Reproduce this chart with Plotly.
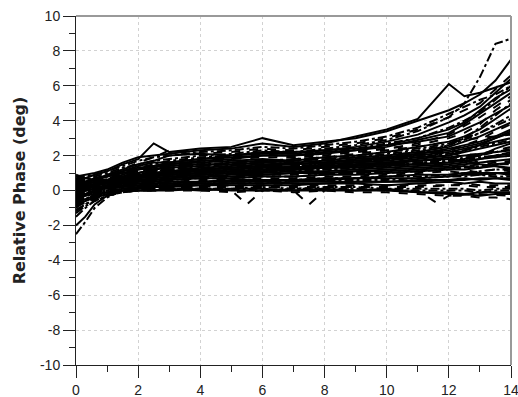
import plotly.graph_objects as go

x_vals = [0, 0.3, 0.6, 1, 1.5, 2, 2.5, 3, 4, 5, 6, 7, 8, 9, 10, 11, 12, 12.5, 13, 13.5, 14]

s01 = [0.5, 0.6, 0.8, 1.0, 1.3, 1.5, 1.7, 1.8, 2.0, 2.1, 2.3, 2.2, 2.4, 2.6, 2.9, 3.4, 4.2, 5.0, 6.5, 8.4, 8.7]
s02 = [0.8, 0.9, 1.0, 1.2, 1.6, 1.9, 2.0, 2.1, 2.3, 2.4, 2.7, 2.5, 2.7, 3.1, 3.5, 4.1, 6.1, 5.4, 5.6, 5.9, 6.2]
s03 = [0.6, 0.7, 0.9, 1.1, 1.5, 1.8, 2.7, 2.2, 2.4, 2.5, 3.0, 2.6, 2.8, 3.0, 3.4, 4.0, 4.6, 5.0, 5.5, 6.3, 7.5]
s04 = [0.3, 0.5, 0.7, 0.9, 1.2, 1.6, 1.9, 2.3, 2.1, 2.2, 2.4, 2.3, 2.5, 2.7, 3.0, 3.5, 4.2, 4.6, 5.0, 5.8, 6.6]
s05 = [0.0, 0.2, 0.4, 0.7, 1.0, 1.3, 1.5, 1.7, 1.9, 2.0, 2.2, 2.1, 2.2, 2.4, 2.7, 3.0, 3.6, 4.0, 4.5, 5.2, 6.0]
s06 = [0.4, 0.5, 0.7, 0.8, 1.1, 1.4, 1.6, 1.6, 1.8, 1.9, 2.0, 2.0, 2.2, 2.3, 2.5, 2.9, 3.3, 3.8, 4.4, 5.0, 5.6]
s07 = [-0.3, -0.1, 0.2, 0.5, 0.8, 1.1, 1.3, 1.4, 1.6, 1.8, 1.9, 1.9, 2.0, 2.2, 2.4, 2.6, 3.0, 3.3, 3.8, 4.6, 5.2]
s08 = [0.2, 0.3, 0.5, 0.6, 0.9, 1.2, 1.3, 1.5, 1.6, 1.7, 1.8, 1.7, 1.9, 2.0, 2.2, 2.5, 2.8, 3.1, 3.5, 4.1, 4.7]
s09 = [-0.6, -0.3, 0.0, 0.4, 0.7, 0.9, 1.1, 1.2, 1.4, 1.5, 1.6, 1.7, 1.8, 1.9, 2.1, 2.3, 2.6, 2.9, 3.3, 3.8, 4.3]
s10 = [0.1, 0.2, 0.4, 0.6, 0.8, 1.0, 1.2, 1.3, 1.4, 1.6, 1.7, 1.6, 1.7, 1.9, 2.0, 2.2, 2.5, 2.8, 3.1, 3.5, 3.9]
s11 = [-0.2, 0.0, 0.3, 0.5, 0.7, 0.9, 1.0, 1.1, 1.3, 1.4, 1.5, 1.5, 1.6, 1.8, 1.9, 2.1, 2.4, 2.6, 2.8, 3.1, 3.5]
s12 = [0.5, 0.6, 0.7, 0.8, 1.0, 1.1, 1.2, 1.3, 1.5, 1.5, 1.6, 1.8, 1.9, 2.1, 2.3, 2.5, 2.8, 2.9, 3.0, 3.1, 3.2]
s13 = [-1.0, -0.6, -0.2, 0.2, 0.5, 0.7, 0.9, 1.0, 1.1, 1.2, 1.3, 1.4, 1.5, 1.6, 1.8, 1.9, 2.1, 2.3, 2.5, 2.7, 2.9]
s14 = [0.0, 0.1, 0.3, 0.5, 0.6, 0.8, 0.9, 1.0, 1.2, 1.3, 1.4, 1.3, 1.5, 1.6, 1.7, 1.9, 2.0, 2.2, 2.4, 2.6, 2.8]
s15 = [-0.4, -0.2, 0.1, 0.3, 0.5, 0.7, 0.8, 0.9, 1.0, 1.1, 1.2, 1.2, 1.3, 1.4, 1.5, 1.6, 1.8, 2.0, 2.1, 2.3, 2.5]
s16 = [0.3, 0.4, 0.5, 0.6, 0.7, 0.8, 0.9, 1.0, 1.1, 1.1, 1.2, 1.2, 1.3, 1.4, 1.5, 1.7, 1.9, 2.0, 2.1, 2.2, 2.3]
s17 = [-0.8, -0.5, -0.2, 0.1, 0.4, 0.6, 0.7, 0.8, 0.9, 1.0, 1.1, 1.1, 1.2, 1.3, 1.4, 1.5, 1.7, 1.8, 1.9, 2.0, 2.2]
s18 = [0.2, 0.2, 0.3, 0.4, 0.5, 0.6, 0.7, 0.8, 0.9, 1.0, 1.0, 1.1, 1.1, 1.2, 1.3, 1.4, 1.5, 1.6, 1.8, 1.9, 2.0]
s19 = [-0.5, -0.3, -0.1, 0.2, 0.4, 0.5, 0.6, 0.7, 0.8, 0.8, 0.9, 1.0, 1.0, 1.1, 1.2, 1.3, 1.4, 1.5, 1.6, 1.7, 1.8]
s20 = [0.6, 0.6, 0.6, 0.7, 0.8, 0.9, 1.0, 1.1, 1.3, 1.4, 1.5, 1.4, 1.6, 1.7, 1.8, 1.9, 2.2, 1.9, 1.6, 1.7, 1.6]
s21 = [-1.2, -0.8, -0.4, 0.0, 0.3, 0.4, 0.5, 0.6, 0.7, 0.7, 0.8, 0.8, 0.9, 1.0, 1.0, 1.1, 1.2, 1.3, 1.4, 1.5, 1.5]
s22 = [0.1, 0.1, 0.2, 0.3, 0.4, 0.5, 0.5, 0.6, 0.7, 0.7, 0.8, 0.8, 0.9, 0.9, 1.0, 1.1, 1.2, 1.2, 1.3, 1.4, 1.3]
s23 = [-0.7, -0.4, -0.2, 0.1, 0.2, 0.3, 0.4, 0.5, 0.6, 0.6, 0.7, 0.7, 0.8, 0.8, 0.9, 1.0, 1.1, 1.0, 1.1, 1.2, 1.1]
s24 = [-0.1, 0.0, 0.1, 0.2, 0.3, 0.4, 0.4, 0.5, 0.5, 0.6, 0.6, 0.6, 0.7, 0.7, 0.8, 0.9, 0.9, 1.0, 1.0, 1.0, 1.0]
s25 = [-2.5, -1.8, -1.0, -0.4, 0.0, 0.2, 0.3, 0.4, 0.4, 0.5, 0.5, 0.5, 0.6, 0.6, 0.6, 0.7, 0.8, 0.8, 0.9, 0.8, 0.8]
s26 = [0.0, 0.0, 0.1, 0.1, 0.2, 0.3, 0.3, 0.3, 0.4, 0.4, 0.4, 0.5, 0.5, 0.5, 0.5, 0.6, 0.6, 0.7, 0.6, 0.7, 0.6]
s27 = [-2.0, -1.5, -0.8, -0.3, 0.0, 0.1, 0.2, 0.2, 0.3, 0.3, 0.3, 0.3, 0.4, 0.4, 0.3, 0.4, 0.5, 0.4, 0.5, 0.4, 0.4]
s28 = [-0.9, -0.7, -0.4, -0.2, 0.0, 0.1, 0.1, 0.2, 0.2, 0.2, 0.2, 0.2, 0.2, 0.2, 0.2, 0.2, 0.3, 0.3, 0.2, 0.2, 0.2]
s29 = [-1.5, -1.0, -0.6, -0.3, -0.1, 0.0, 0.1, 0.1, 0.1, 0.1, 0.0, 0.1, 0.1, 0.1, 0.0, 0.0, 0.0, 0.0, -0.1, 0.0, 0.0]
s30 = [-0.3, -0.3, -0.2, -0.1, 0.0, 0.0, 0.0, 0.1, 0.0, 0.1, 0.1, 0.0, 0.1, 0.0, 0.1, -0.1, -0.2, -0.2, -0.3, -0.2, -0.2]
s31 = [-0.6, -0.5, -0.4, -0.2, -0.1, 0.0, 0.0, 0.0, 0.0, -0.1, 0.0, -0.1, 0.0, -0.1, -0.1, -0.2, -0.3, -0.3, -0.4, -0.4, -0.5]
s32 = [0.9, 0.7, 0.6, 0.6, 0.7, 0.8, 0.8, 0.9, 1.0, 1.1, 1.2, 1.3, 1.4, 1.5, 1.6, 1.8, 2.0, 2.3, 2.6, 3.0, 3.4]
s33 = [-0.2, -0.1, 0.0, 0.2, 0.4, 0.6, 0.7, 0.8, 1.0, 1.1, 1.2, 1.3, 1.4, 1.6, 1.8, 2.1, 2.6, 3.0, 3.6, 4.3, 5.0]
s34 = [0.4, 0.5, 0.6, 0.8, 1.1, 1.3, 1.4, 1.5, 1.7, 1.8, 2.0, 2.0, 2.1, 2.3, 2.6, 3.0, 3.5, 3.9, 4.6, 5.3, 5.8]
s35 = [-0.4, -0.2, 0.0, 0.3, 0.6, 0.8, 1.0, 1.1, 1.2, 1.3, 1.4, 1.3, 1.4, 1.5, 1.6, 1.7, 1.8, 1.7, 1.5, 1.4, 1.2]
s36 = [0.2, 0.3, 0.4, 0.5, 0.7, 0.9, 1.0, 1.1, 1.2, 1.3, 1.3, 1.4, 1.4, 1.5, 1.6, 1.6, 1.4, 1.2, 1.0, 0.9, 0.9]
s37 = [0.7, 0.8, 0.9, 1.1, 1.4, 1.7, 1.9, 2.0, 2.2, 2.3, 2.5, 2.4, 2.6, 2.8, 3.1, 3.6, 4.4, 4.8, 5.2, 5.5, 6.0]
s38 = [0.3, 0.4, 0.6, 0.9, 1.2, 1.5, 1.7, 2.0, 2.1, 2.0, 2.2, 2.2, 2.3, 2.5, 2.8, 3.2, 3.9, 4.3, 4.8, 5.6, 6.4]
s39 = [-0.1, 0.1, 0.3, 0.6, 0.9, 1.2, 1.4, 1.5, 1.7, 1.9, 2.1, 1.9, 2.1, 2.2, 2.4, 2.7, 3.2, 3.7, 4.2, 4.8, 5.4]
s40 = [0.5, 0.5, 0.6, 0.8, 1.0, 1.2, 1.4, 1.6, 1.8, 2.0, 2.1, 2.1, 2.3, 2.4, 2.6, 2.8, 3.1, 3.5, 3.9, 4.4, 4.9]
s41 = [-0.5, -0.3, 0.0, 0.3, 0.6, 0.9, 1.1, 1.3, 1.5, 1.6, 1.7, 1.8, 1.9, 2.0, 2.2, 2.4, 2.7, 3.0, 3.3, 3.7, 4.1]
s42 = [0.0, 0.1, 0.3, 0.5, 0.8, 1.0, 1.2, 1.4, 1.5, 1.5, 1.6, 1.5, 1.6, 1.7, 1.9, 2.1, 2.3, 2.5, 2.7, 3.0, 3.3]
s43 = [-0.3, -0.2, 0.0, 0.3, 0.5, 0.7, 0.8, 1.0, 1.2, 1.3, 1.4, 1.5, 1.6, 1.7, 1.8, 2.0, 2.2, 2.4, 2.6, 2.8, 3.0]
s44 = [0.4, 0.4, 0.5, 0.6, 0.8, 1.0, 1.1, 1.2, 1.3, 1.4, 1.5, 1.6, 1.7, 1.7, 1.8, 2.0, 2.3, 2.6, 2.9, 3.4, 3.8]
s45 = [-0.9, -0.6, -0.3, 0.0, 0.3, 0.5, 0.6, 0.7, 0.9, 1.0, 1.1, 1.2, 1.2, 1.3, 1.4, 1.6, 1.7, 1.9, 2.0, 2.2, 2.4]
s46 = [0.2, 0.2, 0.3, 0.5, 0.6, 0.7, 0.8, 0.9, 1.0, 1.1, 1.1, 1.2, 1.3, 1.3, 1.4, 1.5, 1.6, 1.7, 1.8, 2.0, 2.1]
s47 = [-0.4, -0.3, -0.1, 0.1, 0.3, 0.4, 0.5, 0.6, 0.7, 0.8, 0.9, 0.9, 1.0, 1.0, 1.1, 1.2, 1.3, 1.4, 1.5, 1.6, 1.7]
s48 = [0.3, 0.3, 0.3, 0.4, 0.5, 0.6, 0.6, 0.7, 0.8, 0.9, 0.9, 1.0, 1.0, 1.1, 1.1, 1.2, 1.3, 1.4, 1.3, 1.5, 1.6]
s49 = [-1.1, -0.8, -0.5, -0.2, 0.1, 0.2, 0.3, 0.4, 0.5, 0.5, 0.6, 0.6, 0.7, 0.7, 0.8, 0.8, 0.9, 1.0, 1.1, 1.2, 1.2]
s50 = [0.0, 0.0, 0.1, 0.2, 0.2, 0.3, 0.4, 0.4, 0.5, 0.5, 0.5, 0.6, 0.6, 0.7, 0.7, 0.7, 0.8, 0.9, 0.9, 1.0, 0.9]
s51 = [-0.6, -0.5, -0.3, -0.1, 0.1, 0.2, 0.2, 0.3, 0.3, 0.4, 0.4, 0.4, 0.4, 0.5, 0.5, 0.5, 0.6, 0.6, 0.7, 0.7, 0.7]
s52 = [-0.2, -0.2, -0.1, 0.0, 0.1, 0.1, 0.2, 0.2, 0.2, 0.3, 0.3, 0.3, 0.3, 0.3, 0.3, 0.3, 0.3, 0.4, 0.3, 0.3, 0.3]
s53 = [-1.3, -0.9, -0.6, -0.3, -0.1, 0.0, 0.0, 0.1, 0.1, 0.1, 0.2, 0.1, 0.2, 0.2, 0.1, 0.1, 0.1, 0.1, 0.0, 0.1, 0.1]
s54 = [-0.8, -0.6, -0.4, -0.2, 0.0, 0.0, 0.0, 0.0, 0.1, 0.0, 0.0, 0.0, 0.0, 0.0, 0.0, -0.1, -0.1, -0.2, -0.1, -0.1, -0.1]
s55 = [0.7, 0.6, 0.6, 0.7, 0.9, 1.1, 1.2, 1.3, 1.4, 1.6, 1.7, 1.7, 1.8, 1.9, 2.0, 2.2, 2.3, 2.1, 2.0, 1.9, 2.0]
s56 = [0.1, 0.2, 0.3, 0.4, 0.6, 0.8, 0.9, 1.0, 1.1, 1.2, 1.3, 1.3, 1.3, 1.4, 1.5, 1.5, 1.6, 1.8, 2.0, 2.4, 2.7]

# one series sampled on its own x grid (shows the small dips)
x_dip = [0, 0.5, 1, 2, 3, 4, 5, 5.5, 6, 7, 7.5, 8, 9, 10, 11, 11.6, 12, 13, 14]
s_dip = [-0.7, -0.3, 0.0, 0.1, 0.1, 0.1, 0.0, -0.8, 0.0, 0.0, -0.8, 0.0, 0.1, 0.0, 0.0, -0.7, -0.3, -0.2, -0.3]

series = [s01, s02, s03, s04, s05, s06, s07, s08, s09, s10, s11, s12,
          s13, s14, s15, s16, s17, s18, s19, s20, s21, s22, s23, s24,
          s25, s26, s27, s28, s29, s30, s31, s32, s33, s34, s35, s36,
          s37, s38, s39, s40, s41, s42, s43, s44, s45, s46, s47, s48,
          s49, s50, s51, s52, s53, s54, s55, s56]
dash_cycle = ["dashdot", "solid", "solid", "dash", "dashdot", "solid", "dash", "solid"]

x_ticks = [0, 2, 4, 6, 8, 10, 12, 14]
x_labels = ["0", "2", "4", "6", "8", "10", "12", "14"]
y_ticks = [-10, -8, -6, -4, -2, 0, 2, 4, 6, 8, 10]
y_labels = ["-10", "-8", "-6", "-4", "-2", "0", "2", "4", "6", "8", "10"]

fig = go.Figure()
for i, ys in enumerate(series):
    fig.add_trace(go.Scatter(x=x_vals, y=ys, mode="lines",
                             line=dict(color="black", width=2, dash=dash_cycle[i % len(dash_cycle)]),
                             showlegend=False, hoverinfo="skip"))
fig.add_trace(go.Scatter(x=x_dip, y=s_dip, mode="lines",
                         line=dict(color="black", width=2, dash="dash"),
                         showlegend=False, hoverinfo="skip"))

axis_common = dict(
    showline=True, linecolor="#222", linewidth=1,
    ticks="outside", ticklen=12, tickcolor="#222", tickwidth=1,
    showgrid=True, gridcolor="#d2d2d2", griddash="dot", gridwidth=1,
    zeroline=False, automargin=False, ticklabeloverflow="allow",
    tickfont=dict(family="Liberation Sans, Arial", size=14, color="#222"),
    minor=dict(dtick=1, ticks="outside", ticklen=6, tickcolor="#222", showgrid=False),
)

fig.update_layout(
    width=518, height=397,
    margin=dict(l=76, r=7, t=16, b=32),
    paper_bgcolor="white", plot_bgcolor="white",
    xaxis=dict(range=[0, 14], tickvals=x_ticks, ticktext=x_labels, **axis_common),
    yaxis=dict(range=[-10, 10], tickvals=y_ticks, ticktext=y_labels,
               title=dict(text="<b>Relative Phase (deg)</b>", standoff=10,
                          font=dict(family="DejaVu Sans", size=16, color="#222")),
               **axis_common),
    shapes=[
        dict(type="line", xref="paper", yref="paper", x0=0, x1=1, y0=1, y1=1,
             line=dict(color="#999", width=2)),
        dict(type="line", xref="paper", yref="paper", x0=1, x1=1, y0=0, y1=1,
             line=dict(color="#999", width=2)),
    ],
)

fig.write_html("out.html")
